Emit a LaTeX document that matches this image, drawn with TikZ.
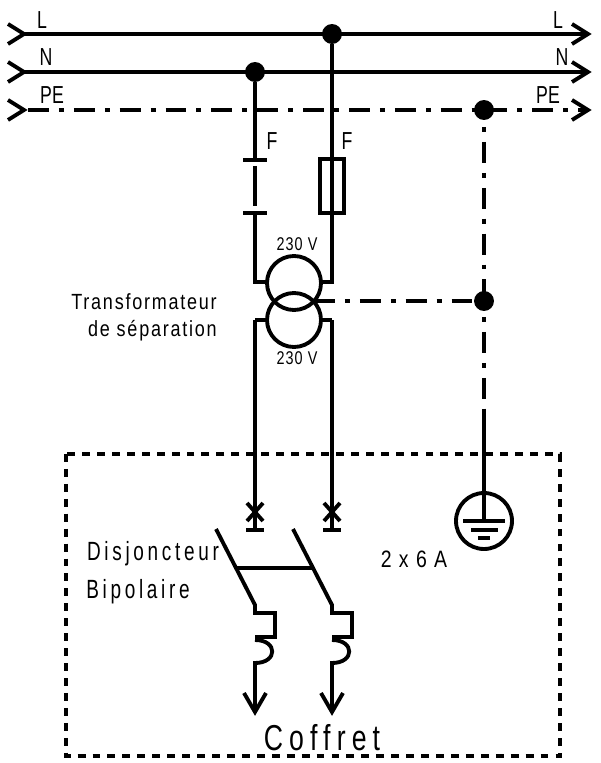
\documentclass[tikz,border=0pt]{standalone}
\usepackage{fontspec}
\usetikzlibrary{calc}
\newfontfamily\narrowfont[FakeStretch=0.72]{Liberation Sans}
\newfontfamily\widefont[FakeStretch=0.72,LetterSpace=14]{Liberation Sans}
\newfontfamily\midfont[FakeStretch=0.78,LetterSpace=6]{Liberation Sans}
\newfontfamily\trfont[FakeStretch=0.82,LetterSpace=8]{Liberation Sans}
\newfontfamily\boxfont[FakeStretch=0.74,LetterSpace=17]{Liberation Sans}
\tikzset{
    wire/.style={line width=2.2pt, line join=miter},
    earthwire/.style={line width=2.2pt, dash pattern=on 11.9pt off 5.7pt on 2.8pt off 5.7pt},
    junction/.style={circle, fill=black, inner sep=0pt, minimum size=20*0.567pt},
    wirelabel/.style={inner sep=0pt, font=\narrowfont\fontsize{14}{16}\selectfont},
    voltlabel/.style={inner sep=0pt, font=\midfont\fontsize{10.5}{12}\selectfont},
    boxlabel/.style={inner sep=0pt, font=\widefont\fontsize{15}{18}\selectfont},
}

\begin{document}
\begin{tikzpicture}[x=0.02cm, y=-0.02cm]
    \useasboundingbox (0,0) rectangle (600,763);
    % reseau
    \foreach \name/\y in {L/34, N/72, PE/110} {
        \coordinate (in\name) at (24,\y);
        \coordinate (out\name) at (588,\y);
        \draw [wire] ($(in\name)+(-16,-10)$) -- (in\name) -- ($(in\name)+(-16,10)$);
        \draw [wire] ($(out\name)+(-16,-10)$) -- (out\name) -- ($(out\name)+(-16,10)$);
    }
    \draw [wire] (inL) -- (outL);
    \draw [wire] (inN) -- (outN);
    \coordinate (startPE) at (28,110);
    \draw [earthwire] (startPE) -- (outPE);
    \node [wirelabel] (lblL) at (42,20) {L};
    \node [wirelabel] (lblN) at (46,57) {N};
    \node [wirelabel] (lblPE) at (52,95) {PE};
    \node [wirelabel] (lblLr) at (558,20) {L};
    \node [wirelabel] (lblNr) at (562,57) {N};
    \node [wirelabel] (lblPEr) at (548,95) {PE};
    % branchements
    \node [junction] (jL) at (332,34) {};
    \node [junction] (jN) at (255,72) {};
    \node [junction] (jPE) at (484,110) {};
    \node [junction] (jT) at (484,301) {};
    % cote neutre, contact F
    \coordinate (barA) at (255,160);
    \coordinate (barB) at (255,213);
    \coordinate (leftUp) at (255,282);
    \draw [wire] (jN) -- (barA);
    \draw [wire] (243,160) -- (267,160);
    \draw [wire] (255,166) -- (255,206);
    \draw [wire] (243,213) -- (267,213);
    \draw [wire] (barB) -- (leftUp) -- (267,282);
    \node [wirelabel] (lblFa) at (272,141) {F};
    % cote phase, fusible
    \coordinate (fuseTop) at (332,159);
    \coordinate (fuseBot) at (332,213);
    \coordinate (rightUp) at (332,282);
    \draw [wire] (jL) -- (fuseBot) -- (rightUp) -- (321,282);
    \draw [wire] (320,159) rectangle (344,213);
    \node [wirelabel] (lblFb) at (347,141) {F};
    % transformateur
    \draw [wire] (294,283) circle (27);
    \draw [wire] (294,320) circle (27);
    \node [voltlabel] (voltUp) at (297,244) {230 V};
    \node [voltlabel] (voltDown) at (297,358) {230 V};
    \node [boxlabel, font=\trfont\fontsize{12.5}{15}\selectfont, anchor=east] (lblTrA) at (217,302) {Transformateur};
    \node [boxlabel, font=\trfont\fontsize{12.5}{15}\selectfont, anchor=east] (lblTrB) at (217,331) {de séparation};
    % terre
    \coordinate (trEarth) at (314,301);
    \coordinate (earthEnd) at (484,412);
    \coordinate (gndC) at (484,521);
    \draw [earthwire, dash phase=14pt*0.567] (jPE.center) -- (jT.center);
    \draw [earthwire] (trEarth) -- (jT);
    \draw [earthwire, dash phase=15pt*0.567] (jT.center) -- (earthEnd);
    \draw [wire] (earthEnd) -- (gndC);
    \draw [wire] (gndC) circle (28);
    \draw [wire] (463,521) -- (505,521);
    \draw [wire] (471,530) -- (498,530);
    \draw [wire] (478,538) -- (490,538);
    % coffret
    \draw [line width=2.3pt, dash pattern=on 4.5pt off 4pt] (66,454) rectangle (560,756);
    \node [boxlabel] (lblDa) at (153,554) {Disjoncteur};
    \node [boxlabel] (lblDb) at (138,592) {Bipolaire};
    \node [boxlabel, font=\trfont\fontsize{13.5}{16}\selectfont] (lblCal) at (414,559) {2 x 6 A};
    \node [boxlabel, font=\boxfont\fontsize{20.5}{24}\selectfont] (lblBox) at (322,738) {Coffret};
    % disjoncteur, les deux poles
    \foreach \name/\x in {a/255, b/332} {
        \coordinate (lowUp\name) at (\x,320);
        \coordinate (bar\name) at (\x,530);
        \coordinate (blA\name) at (\x-39,529);
        \coordinate (blB\name) at (\x,605);
        \coordinate (tip\name) at (\x,712);
        \draw [wire] (lowUp\name) -- (bar\name);
        \draw [wire] (\x-9,530) -- (\x+9,530);
        \draw [wire] (\x-8,503) -- (\x+8,521);
        \draw [wire] (\x-8,521) -- (\x+8,503);
        \draw [wire] (blA\name) -- (blB\name) -- (\x,613) -- (\x+20,613) -- (\x+20,637) -- (\x,637);
        \draw [wire] (\x,640) .. controls (\x+23,640) and (\x+23,663) .. (\x,663) -- (tip\name);
        \draw [wire] (\x-11,693) -- (tip\name) -- (\x+11,693);
    }
    \draw [wire] (255,320) -- (267,320);
    \draw [wire] (332,320) -- (321,320);
    \coordinate (crossA) at (237,568);
    \coordinate (crossB) at (313,568);
    \draw [wire] (crossA) -- (crossB);
\end{tikzpicture}
\end{document}
